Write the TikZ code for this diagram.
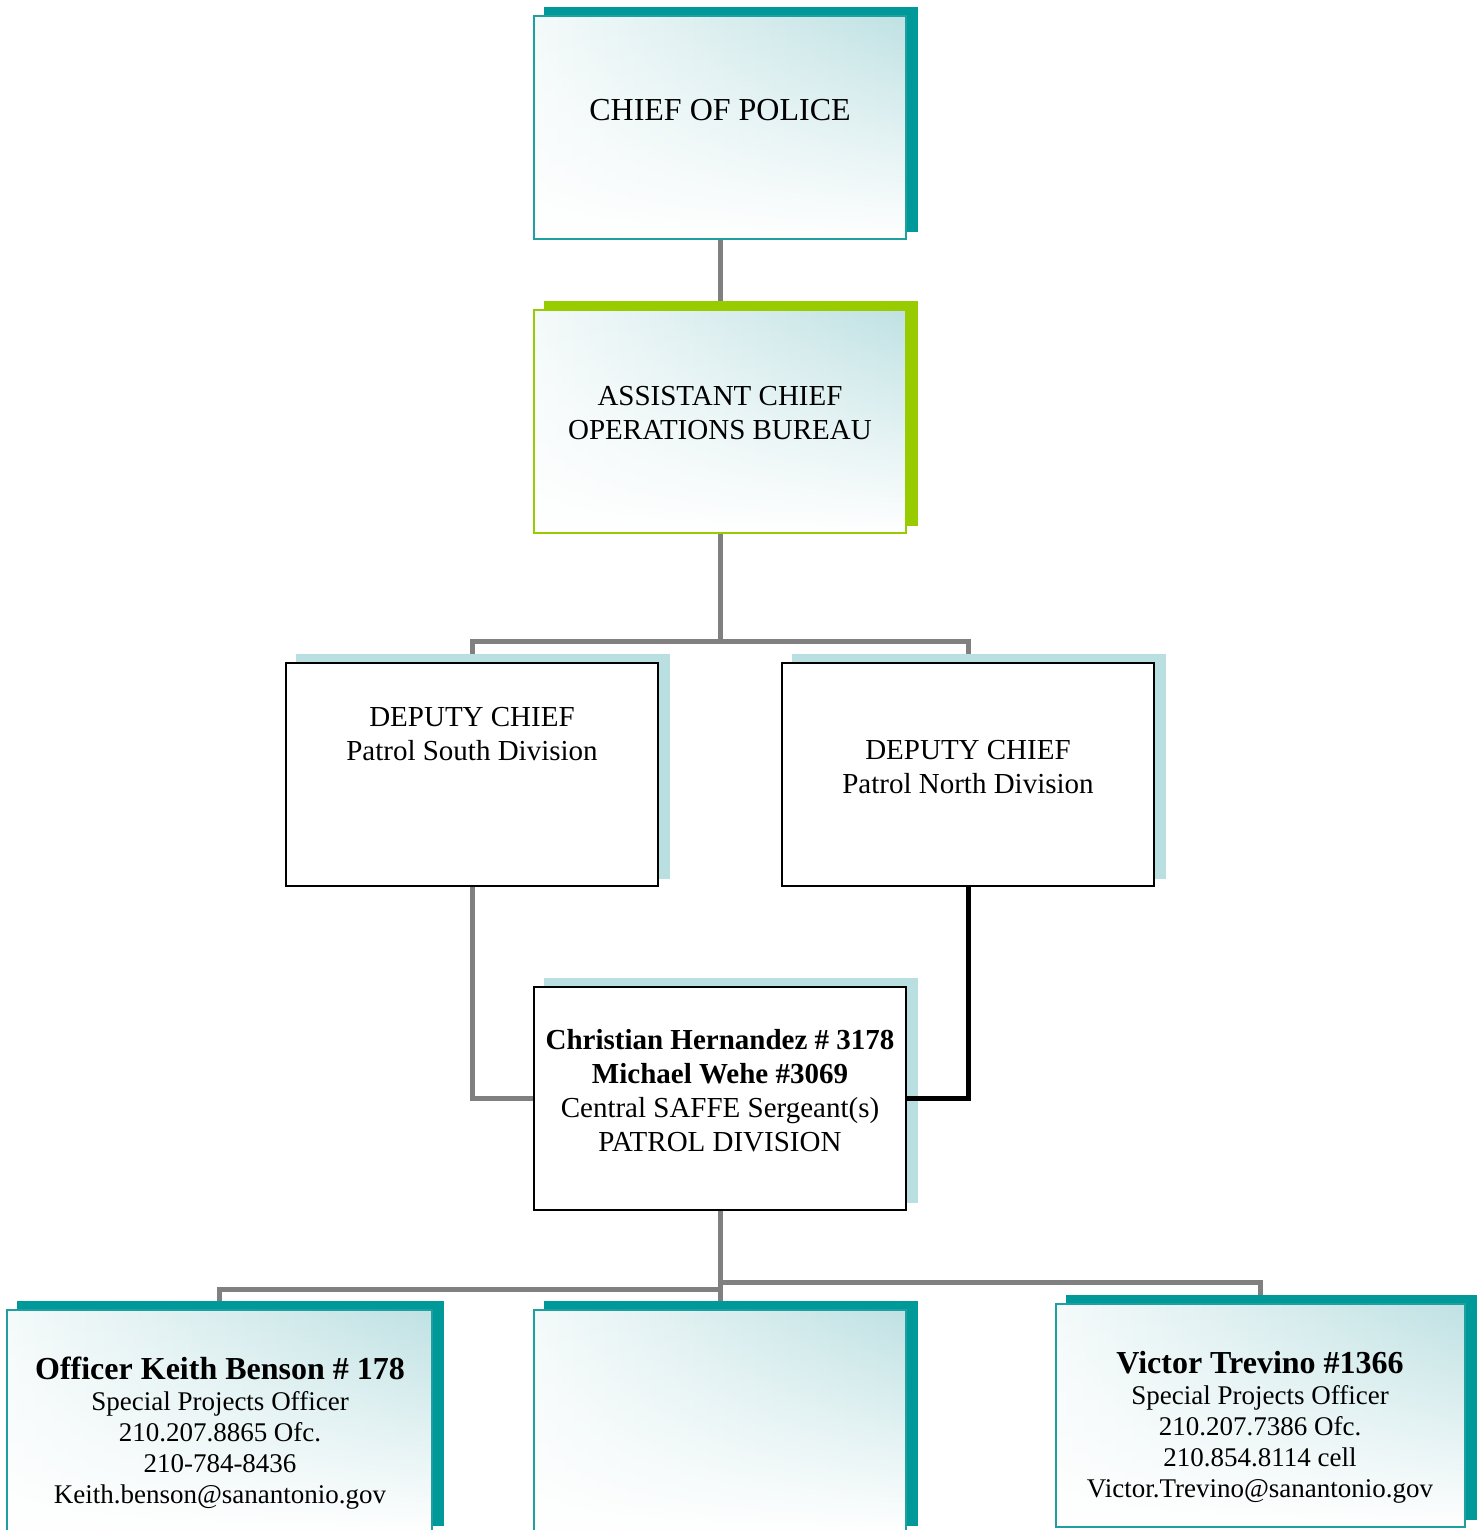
\documentclass[tikz,border=0pt]{standalone}
\usepackage{fontspec}
\setmainfont{Liberation Serif}
\usetikzlibrary{fadings}
\definecolor{tealdk}{HTML}{009999}
\definecolor{tealbd}{HTML}{1FA0A0}
\definecolor{tealgrad}{HTML}{BADFE1}
\definecolor{greenbd}{HTML}{99CC00}
\definecolor{lblue}{HTML}{B9DFE1}
\definecolor{conngray}{HTML}{808080}
\pgfdeclarelayer{bglines}
\pgfdeclarelayer{shadows}
\pgfsetlayers{bglines,shadows,main}
\tikzfading[name=fadebot, top color=transparent!100, middle color=transparent!85, bottom color=transparent!0]
\pgfdeclarehorizontalshading{tealh}{100bp}{color(0bp)=(white); color(15bp)=(white); color(80bp)=(tealgrad); color(100bp)=(tealgrad)}
\newcommand\dropsh[2]{%
  \begin{pgfonlayer}{shadows}
  \fill[#2] ([xshift=11pt,yshift=8pt]#1.south west) rectangle ([xshift=11pt,yshift=8pt]#1.north east);
  \end{pgfonlayer}}
\tikzset{
  boxbase/.style={rectangle, inner sep=0pt, line width=2pt, minimum width=372pt, minimum height=223pt},
  gradbox/.style={boxbase, draw=tealbd, shading=tealh,
    path picture={\fill[white, path fading=fadebot] (path picture bounding box.south west) rectangle (path picture bounding box.north east);}},
  plainbox/.style={boxbase, draw=black, fill=white},
  conn/.style={draw=conngray, line width=5pt, line join=miter},
  blackconn/.style={draw=black, line width=5pt, line join=miter},
  txt/.style={align=center, inner sep=0pt, font=\fontsize{29}{34}\selectfont},
  smalltxt/.style={align=center, inner sep=0pt, font=\fontsize{27}{31}\selectfont}
}
\begin{document}
\begin{tikzpicture}[x=1pt,y=-1pt]
\useasboundingbox (0,0) rectangle (1481,1530);
% boxes
\node[gradbox] (chief) at (720,127.5) {};
\dropsh{chief}{tealdk}
\node[gradbox, draw=greenbd] (asst) at (720,421.5) {};
\dropsh{asst}{greenbd}
\node[plainbox] (dsouth) at (472,774.5) {};
\dropsh{dsouth}{lblue}
\node[plainbox] (dnorth) at (968,774.5) {};
\dropsh{dnorth}{lblue}
\node[plainbox] (sgt) at (720,1098.5) {};
\dropsh{sgt}{lblue}
\node[gradbox, minimum width=425pt] (kb) at (219.5,1421.5) {};
\dropsh{kb}{tealdk}
\node[gradbox] (mid) at (720,1421.5) {};
\dropsh{mid}{tealdk}
\node[gradbox, minimum width=409pt] (vt) at (1260.5,1415.5) {};
\dropsh{vt}{tealdk}
% texts
\node[txt, font=\fontsize{32}{36}\selectfont] (chieft) at (720,110) {CHIEF OF POLICE};
\node[txt] (asstt) at (720,413) {ASSISTANT CHIEF\\OPERATIONS BUREAU};
\node[txt] (dsoutht) at (472,734) {DEPUTY CHIEF\\Patrol South Division};
\node[txt] (dnortht) at (968,767) {DEPUTY CHIEF\\Patrol North Division};
\node[txt] (sgtt) at (720,1091) {{\bfseries Christian Hernandez \# 3178}\\{\bfseries Michael Wehe \#3069}\\Central SAFFE Sergeant(s)\\PATROL DIVISION};
\node[smalltxt] (kbt) at (220,1433) {{\fontsize{32}{34}\selectfont\bfseries Officer Keith Benson \# 178}\\Special Projects Officer\\210.207.8865 Ofc.\\210-784-8436\\Keith.benson@sanantonio.gov};
\node[smalltxt] (vtt) at (1260,1427) {{\fontsize{32}{34}\selectfont\bfseries Victor Trevino \#1366}\\Special Projects Officer\\210.207.7386 Ofc.\\210.854.8114 cell\\Victor.Trevino@sanantonio.gov};
% black connector drawn above the shadow
\draw[blackconn] (dnorth.south) |- (sgt.east);
% connectors
\begin{pgfonlayer}{bglines}
\coordinate (j1) at (720,641);
\coordinate (j2) at (720,1289);
\coordinate (j3) at (720,1282);
\draw[conn] (chief.south) -- (asst.north);
\draw[conn] (asst.south) -- (j1);
\draw[conn] (dsouth.north) -- (dsouth.north |- j1) -- (dnorth.north |- j1) -- (dnorth.north);
\draw[conn] (dsouth.south) |- (sgt.west);
\draw[conn] (sgt.south) -- (mid.north);
\draw[conn] (kb.north) |- (j2);
\draw[conn] (vt.north) |- (j3);
\end{pgfonlayer}
\end{tikzpicture}
\end{document}
